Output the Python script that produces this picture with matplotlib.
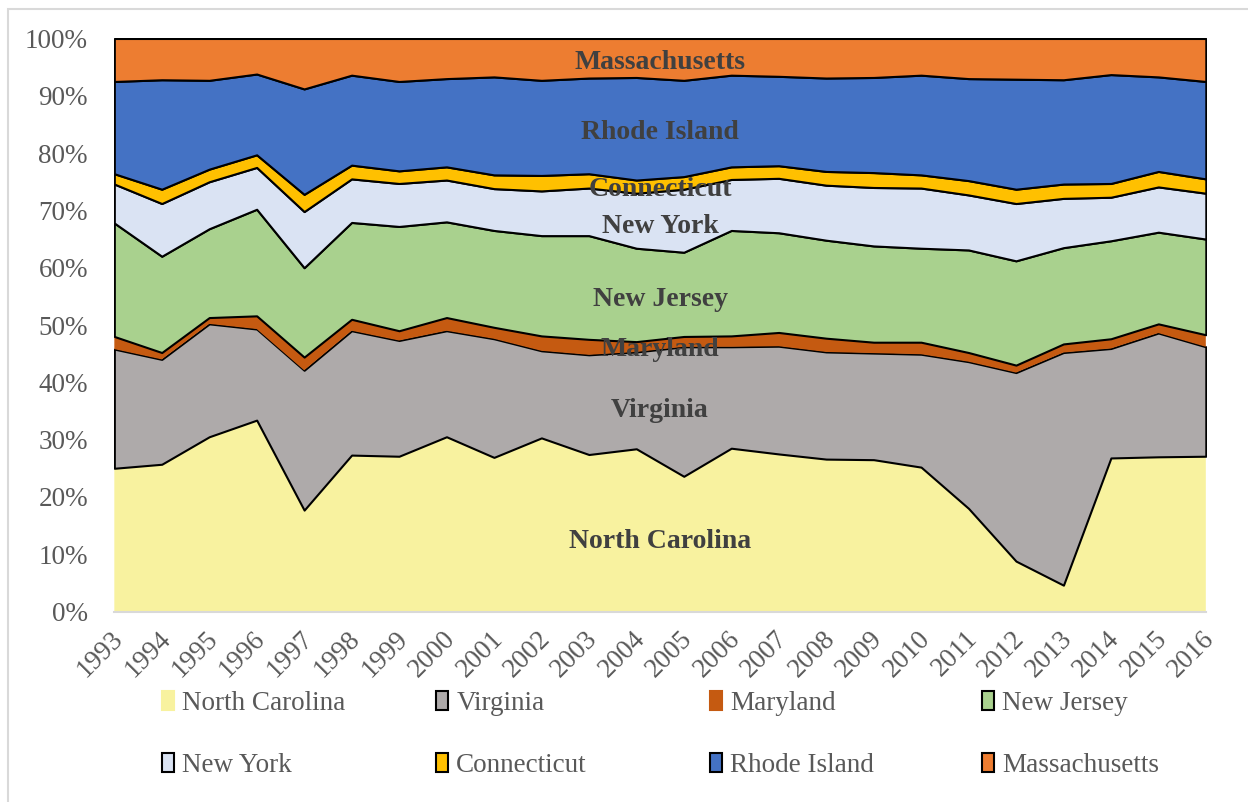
import matplotlib.pyplot as plt
from matplotlib.patches import Patch, Rectangle
from matplotlib.transforms import ScaledTranslation

plt.rcParams['font.family'] = ['Liberation Serif', 'DejaVu Serif']

# share of total (%) per state, 1993-2016
years = list(range(1993, 2017))
north_carolina = [25.0, 25.7, 30.5, 33.4, 17.7, 27.3, 27.1, 30.5, 26.9, 30.3, 27.4, 28.4,
                  23.6, 28.5, 27.5, 26.6, 26.5, 25.2, 18.0, 8.8, 4.6, 26.8, 27.0, 27.1]
virginia = [20.8, 18.3, 19.7, 15.9, 24.4, 21.7, 20.2, 18.5, 20.7, 15.2, 17.4, 16.9,
            22.6, 17.7, 18.8, 18.7, 18.6, 19.7, 25.6, 32.9, 40.6, 19.1, 21.6, 19.1]
maryland = [2.2, 1.2, 1.1, 2.3, 2.3, 2.0, 1.7, 2.3, 2.0, 2.6, 2.7, 1.8,
            1.8, 1.9, 2.4, 2.4, 1.9, 2.1, 1.6, 1.3, 1.5, 1.7, 1.6, 2.1]
new_jersey = [19.8, 16.8, 15.5, 18.6, 15.6, 16.9, 18.2, 16.7, 16.9, 17.5, 18.1, 16.3,
              14.7, 18.4, 17.4, 17.1, 16.8, 16.4, 17.9, 18.2, 16.8, 17.1, 16.0, 16.7]
new_york = [6.8, 9.2, 8.2, 7.3, 9.8, 7.6, 7.5, 7.3, 7.3, 7.8, 8.3, 9.6,
            11.0, 8.9, 9.5, 9.6, 10.2, 10.5, 9.6, 10.0, 8.6, 7.6, 7.9, 8.0]
connecticut = [1.8, 2.5, 2.2, 2.2, 3.0, 2.4, 2.2, 2.3, 2.4, 2.7, 2.5, 2.3,
               2.2, 2.2, 2.2, 2.4, 2.6, 2.3, 2.5, 2.5, 2.5, 2.4, 2.7, 2.5]
rhode_island = [16.1, 19.1, 15.5, 14.1, 18.4, 15.7, 15.6, 15.4, 17.1, 16.6, 16.7, 17.9,
                16.8, 16.0, 15.6, 16.3, 16.6, 17.4, 17.8, 19.2, 18.2, 19.0, 16.5, 17.0]
massachusetts = [7.5, 7.2, 7.3, 6.2, 8.8, 6.4, 7.5, 7.0, 6.7, 7.3, 6.9, 6.8,
                 7.3, 6.4, 6.6, 6.9, 6.8, 6.4, 7.0, 7.1, 7.2, 6.3, 6.7, 7.5]

states = ['North Carolina', 'Virginia', 'Maryland', 'New Jersey',
          'New York', 'Connecticut', 'Rhode Island', 'Massachusetts']
series = [north_carolina, virginia, maryland, new_jersey,
          new_york, connecticut, rhode_island, massachusetts]
colors = ['#f8f29f', '#aeaaaa', '#c55a11', '#a9d18e',
          '#dae3f3', '#ffc000', '#4472c4', '#ed7d31']
# NC and Maryland are drawn without an outline
outlined = [False, True, False, True, True, True, True, True]
# vertical position of each in-chart label (%)
label_y = [12.2, 35.1, 45.8, 54.5, 67.2, 73.6, 83.6, 95.8]

# normalise each year to 100%
totals = [sum(v) for v in zip(*series)]
shares = [[100 * v / t for v, t in zip(s, totals)] for s in series]

fig = plt.figure(figsize=(12.48, 8.02), dpi=100)
ax = fig.add_axes([0.0916, 0.2375, 0.8746, 0.7145])

polys = ax.stackplot(years, shares, colors=colors, linewidth=1.5)
for p, o in zip(polys, outlined):
    p.set_edgecolor('black' if o else 'none')

ax.set_xlim(1993, 2016)
ax.set_ylim(0, 100)
ax.set_yticks(range(0, 101, 10))
ax.set_yticklabels([f'{v}%' for v in range(0, 101, 10)])
ax.set_xticks(years)
ax.set_xticklabels([str(y) for y in years], rotation=45, ha='right', va='center',
                   rotation_mode='anchor')
ax.tick_params(axis='both', length=0, labelsize=19.5, labelcolor='#595959')
ax.tick_params(axis='y', pad=19)
ax.tick_params(axis='x', pad=14)
shift = ScaledTranslation(5 / 100, -4 / 100, fig.dpi_scale_trans)
for lbl in ax.get_xticklabels():
    lbl.set_transform(lbl.get_transform() + shift)
for side in ['top', 'right', 'left']:
    ax.spines[side].set_visible(False)
ax.spines['bottom'].set_color('#d9d9d9')
ax.spines['bottom'].set_linewidth(1.5)

for name, y in zip(states, label_y):
    ax.text(2004.5, y, name, ha='center', va='center', fontsize=20,
            fontweight='bold', color='#404040')

# legend: four columns of two entries each
handles = [Patch(facecolor=c, edgecolor='black' if o else c, linewidth=1.5)
           for c, o in zip(colors, outlined)]
col_x = [162, 436, 710, 982]
for i, x in enumerate(col_x):
    fig.legend(handles=[handles[i], handles[i + 4]], labels=[states[i], states[i + 4]],
               loc='center left', bbox_to_anchor=(x / 1248, 1 - 734.5 / 802),
               frameon=False, fontsize=19.5, labelcolor='#595959',
               borderpad=0, borderaxespad=0, handlelength=0.45, handleheight=0.7,
               handletextpad=0.3, labelspacing=1.38)

# light chart-area border
fig.patches.append(Rectangle((8 / 1248, -0.05), 1.1, 1 - 9 / 802 + 0.05,
                             transform=fig.transFigure, fill=False,
                             edgecolor='#d9d9d9', linewidth=1.5))

fig.savefig('out.png', dpi=100)
